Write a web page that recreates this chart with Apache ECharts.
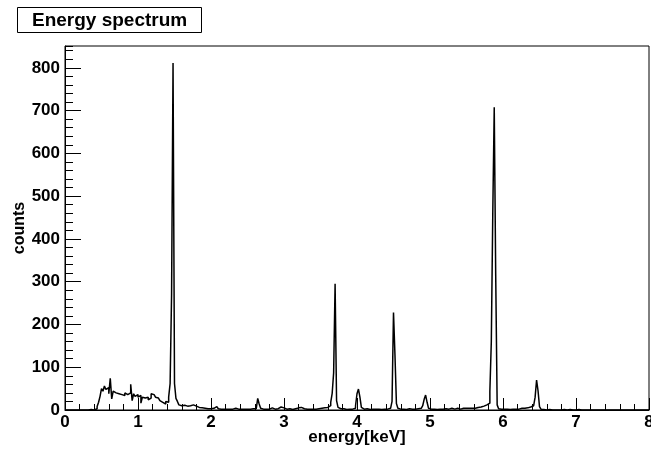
<!DOCTYPE html>
<html>
<head>
<meta charset="utf-8">
<script src="https://cdn.jsdelivr.net/npm/echarts@6/dist/echarts.min.js"></script>
<style>
  html, body { margin: 0; padding: 0; background: #fff; }
  #chart { width: 651px; height: 450px; }
</style>
</head>
<body>
<div id="chart"></div>
<script>
// histogram: 400 bins of 0.02 keV from 0 to 8 keV
const binWidth = 0.02;
const counts = [
  0, 0, 0, 0, 0, 0, 0, 0, 0, 0, 0, 0, 0, 0, 0, 0, 0, 1, 1, 0,
  2, 3, 8, 18, 32, 50, 44, 56, 48, 52, 38, 74, 26, 44, 40, 42, 38, 40, 36, 38,
  34, 40, 36, 32, 40, 60, 22, 38, 32, 36, 30, 34, 16, 30, 28, 26, 30, 24, 28, 38,
  36, 32, 30, 28, 24, 22, 18, 20, 14, 20, 18, 30, 62, 270, 811, 62, 27, 20, 12, 10,
  8, 11, 7, 9, 6, 10, 8, 12, 15, 9, 7, 6, 8, 5, 6, 4, 5, 3, 4, 3,
  3, 4, 6, 8, 7, 3, 2, 3, 2, 1, 2, 3, 2, 1, 2, 2, 4, 3, 2, 1,
  2, 1, 2, 3, 2, 1, 2, 2, 3, 2, 3, 5, 27, 14, 4, 2, 3, 2, 1, 2,
  4, 5, 3, 2, 2, 3, 4, 7, 8, 5, 3, 2, 2, 3, 2, 1, 2, 3, 4, 5,
  5, 6, 4, 3, 2, 2, 3, 2, 1, 2, 3, 2, 2, 3, 2, 4, 3, 5, 4, 6,
  8, 10, 18, 39, 87, 295, 22, 6, 3, 2, 3, 2, 1, 2, 2, 3, 2, 2, 4, 10,
  38, 49, 30, 6, 2, 2, 3, 2, 1, 2, 2, 1, 2, 3, 2, 2, 1, 2, 2, 3,
  2, 3, 4, 8, 20, 228, 129, 15, 4, 2, 3, 2, 2, 1, 2, 3, 2, 2, 3, 2,
  2, 3, 2, 4, 5, 10, 25, 35, 18, 4, 2, 3, 2, 2, 1, 2, 2, 3, 2, 2,
  3, 2, 2, 3, 4, 3, 2, 3, 4, 3, 2, 3, 4, 5, 4, 3, 4, 5, 4, 5,
  4, 5, 6, 6, 7, 8, 9, 10, 12, 13, 16, 43, 160, 460, 708, 317, 12, 3, 2, 2,
  2, 1, 2, 2, 1, 2, 2, 3, 2, 3, 2, 3, 4, 3, 4, 5, 5, 6, 7, 8,
  10, 14, 30, 70, 45, 8, 2, 1, 1, 0, 1, 1, 0, 0, 1, 0, 1, 0, 0, 0,
  0, 1, 0, 0, 0, 1, 0, 0, 0, 0, 0, 1, 0, 0, 0, 0, 0, 0, 0, 0,
  0, 0, 0, 0, 0, 0, 0, 0, 0, 0, 0, 0, 0, 0, 0, 0, 0, 0, 0, 0,
  0, 0, 0, 0, 0, 0, 0, 0, 0, 0, 0, 0, 0, 0, 0, 0, 0, 0, 0, 0
];
const xRange = [0, 8];
const yMax = 851;
const titleText = "Energy spectrum";
const xTitle = "energy[keV]";
const yTitle = "counts";

// left bin edges, plus the closing edge so the last bin gets its top
let stepData = counts.map((c, i) => [+(i * binWidth).toFixed(2), c]);
stepData.push([xRange[1], counts[counts.length - 1]]);

const font = "Liberation Sans";
let mychart = echarts.init(document.getElementById("chart"));
mychart.setOption({
  animation: false,
  backgroundColor: "#fff",
  title: {
    text: titleText,
    left: 17,
    top: 7,
    padding: [4, 15, 3, 15],
    borderColor: "#000",
    borderWidth: 1,
    textStyle: { fontFamily: font, fontWeight: "bold", fontSize: 19, color: "#000" }
  },
  grid: {
    left: 65,
    right: 2,
    top: 46,
    bottom: 40,
    containLabel: false,
    outerBoundsMode: "none",
    show: true,
    borderColor: "#000",
    borderWidth: 1
  },
  xAxis: {
    type: "value",
    min: xRange[0],
    max: xRange[1],
    interval: 1,
    name: xTitle,
    nameLocation: "middle",
    nameGap: 19,
    nameMoveOverlap: false,
    nameTextStyle: { fontFamily: font, fontWeight: "bold", fontSize: 17, color: "#000", verticalAlign: "top" },
    axisLine: { lineStyle: { color: "#000", width: 1 } },
    axisTick: { inside: true, length: 12, lineStyle: { color: "#000" } },
    minorTick: { show: true, splitNumber: 5, length: 6, lineStyle: { color: "#000" } },
    axisLabel: { margin: 4, fontFamily: font, fontWeight: "bold", fontSize: 17, color: "#000" },
    splitLine: { show: false }
  },
  yAxis: [
    {
      type: "value",
      min: 0,
      max: yMax,
      interval: 100,
      name: yTitle,
      nameLocation: "middle",
      nameGap: 37,
      nameMoveOverlap: false,
      nameTextStyle: { fontFamily: font, fontWeight: "bold", fontSize: 16, color: "#000", verticalAlign: "bottom" },
      axisLine: { show: true, lineStyle: { color: "#000", width: 1 } },
      axisTick: { inside: true, length: 16, lineStyle: { color: "#000" } },
      axisLabel: { margin: 5, showMaxLabel: false, fontFamily: font, fontWeight: "bold", fontSize: 17, color: "#000" },
      splitLine: { show: false }
    },
    {
      // minor ticks every 20 counts
      type: "value",
      position: "left",
      min: 0,
      max: yMax,
      interval: 20,
      axisLine: { show: false },
      axisTick: { show: true, inside: true, length: 8, lineStyle: { color: "#000" } },
      axisLabel: { show: false },
      splitLine: { show: false }
    }
  ],
  series: [
    {
      type: "line",
      step: "end",
      showSymbol: false,
      data: stepData,
      lineStyle: { color: "#000", width: 1.5 }
    }
  ]
});
</script>
</body>
</html>
